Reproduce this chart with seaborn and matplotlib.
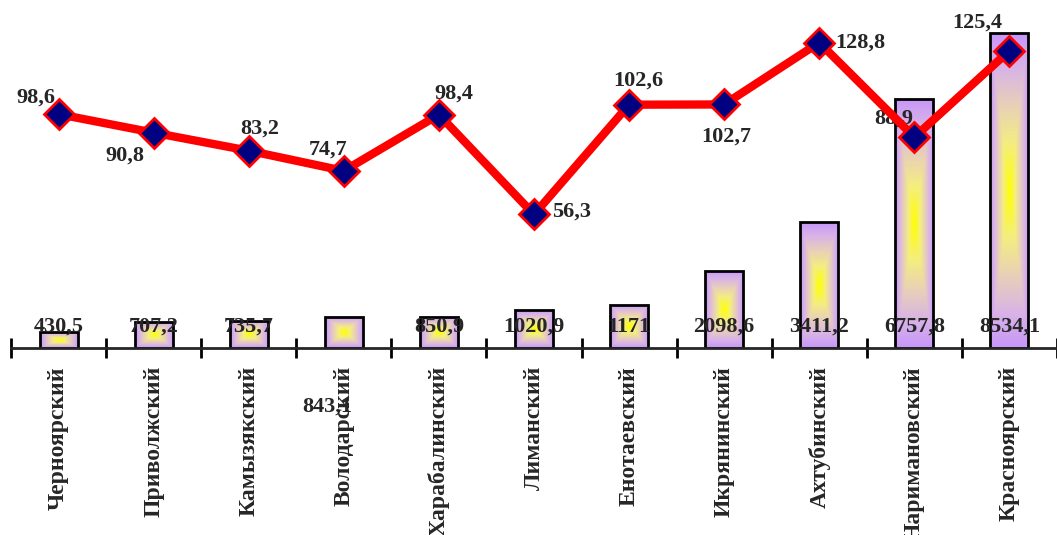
import numpy as np
import pandas as pd
import seaborn as sns
import matplotlib.pyplot as plt
from matplotlib.colors import LinearSegmentedColormap

# --- Data ---
districts = ["Черноярский", "Приволжский", "Камызякский", "Володарский",
             "Харабалинский", "Лиманский", "Енотаевский", "Икрянинский",
             "Ахтубинский", "Наримановский", "Красноярский"]
bar_values = [430.5, 707.2, 735.7, 843.1, 850.9, 1020.9, 1171, 2098.6,
              3411.2, 6757.8, 8534.1]
bar_labels = ["430,5", "707,2", "735,7", "843,1", "850,9", "1020,9", "1171",
              "2098,6", "3411,2", "6757,8", "8534,1"]
line_values = [98.6, 90.8, 83.2, 74.7, 98.4, 56.3, 102.6, 102.7, 128.8, 88.9, 125.4]
line_labels = ["98,6", "90,8", "83,2", "74,7", "98,4", "56,3", "102,6",
               "102,7", "128,8", "88,9", "125,4"]

# label offsets in pixels (dx, dy) relative to each marker
line_offsets = [(-23, 17), (-29, -23), (11, 22), (-16, 21), (15, 21), (38, 3),
                (9, 24), (2, -32), (41, 0), (-21, 19), (-32, 28)]

df = pd.DataFrame({"district": districts, "value": bar_values, "index": line_values})

sns.set_style("white")
plt.rcParams['font.family'] = ['Liberation Serif', 'DejaVu Serif']
plt.rcParams['font.weight'] = 'bold'

fig = plt.figure(figsize=(10.57, 5.35), dpi=100)
ax = fig.add_axes([11 / 1057, 187 / 535, 1046 / 1057, 332 / 535])

sns.barplot(data=df, x="district", y="value", color="#C898F8", width=0.4,
            edgecolor="black", linewidth=2, ax=ax, zorder=2)

# concentric rectangular gradient inside each bar
cmap = LinearSegmentedColormap.from_list(
    "grad", [(0, "#FFFF00"), (0.3, "#F4EE80"), (0.55, "#E8D0B8"),
             (0.8, "#D8B2E8"), (1, "#C898F8")])
g = np.linspace(-1, 1, 60)
uu, vv = np.meshgrid(g, g)
dist = np.maximum(np.abs(uu), np.abs(vv))
for p in ax.patches:
    x0, y0 = p.get_x(), p.get_y()
    w, h = p.get_width(), p.get_height()
    im = ax.imshow(dist, cmap=cmap, vmin=0, vmax=1, aspect="auto",
                   extent=[x0, x0 + w, y0, y0 + h], zorder=2.5,
                   interpolation="bilinear")
    im.set_clip_path(p)
    p.set_zorder(3)
    p.set_facecolor("none")

ax.set_xlim(-0.5, 10.41)
ax.set_ylim(0, 9000)
ax.set_xlabel("")
ax.set_ylabel("")
ax.set_yticks([])
for s in ["top", "right", "left"]:
    ax.spines[s].set_visible(False)
ax.spines["bottom"].set_linewidth(2)
ax.spines["bottom"].set_zorder(4)

ax.set_xticks(range(len(districts)))
ax.set_xticklabels(districts, rotation=90, fontsize=17, fontweight="bold")
ax.tick_params(axis="x", which="major", bottom=True, length=0, pad=13)
ax.set_xticks(np.arange(-0.5, len(districts), 1), minor=True)
ax.tick_params(axis="x", which="minor", bottom=True, direction="inout",
               length=14, width=2, color="black")

# bar value labels near the baseline
for i, lab in enumerate(bar_labels):
    if i == 3:
        ax.annotate(lab, (i, 0), xytext=(-17, -59), textcoords="offset pixels",
                    ha="center", va="center", fontsize=16, fontweight="bold", zorder=1)
    else:
        ax.annotate(lab, (i, 0), xytext=(0, 21), textcoords="offset pixels",
                    ha="center", va="center", fontsize=16, fontweight="bold", zorder=6)

# line on secondary axis
ax2 = ax.twinx()
sns.lineplot(x=np.arange(len(districts)), y=line_values, ax=ax2, color="red",
             linewidth=6, marker="D", markersize=15, markerfacecolor="#000080",
             markeredgecolor="red", markeredgewidth=2, zorder=5)
ax2.set_ylim(0, 140)
ax2.set_yticks([])
ax2.set_ylabel("")
for s in ["top", "right", "left", "bottom"]:
    ax2.spines[s].set_visible(False)

for i, (lab, off) in enumerate(zip(line_labels, line_offsets)):
    ax2.annotate(lab, (i, line_values[i]), xytext=off, textcoords="offset pixels",
                 ha="center", va="center", fontsize=16, fontweight="bold")

fig.savefig("out.png", dpi=100)
